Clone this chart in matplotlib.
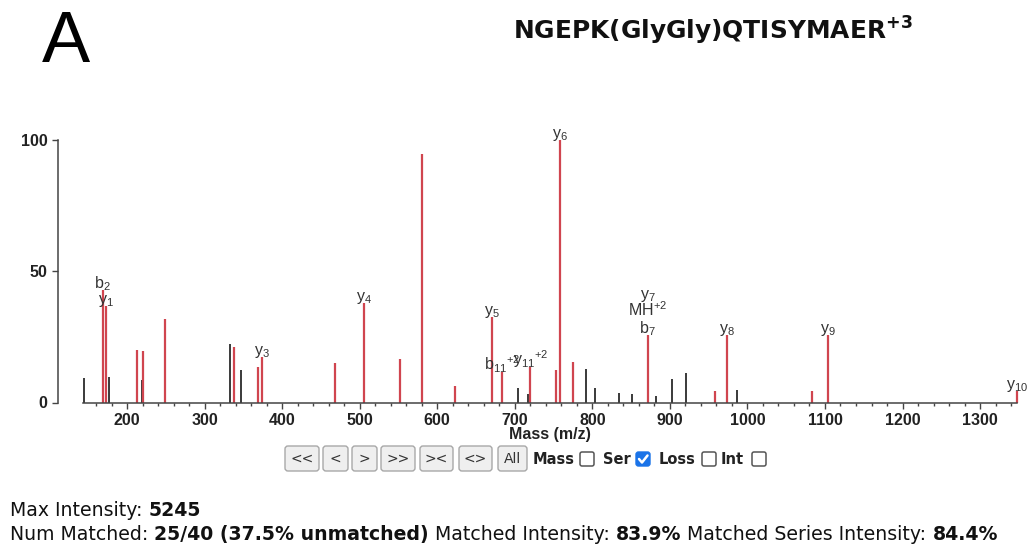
import matplotlib
matplotlib.use("Agg")
import matplotlib.pyplot as plt
from matplotlib.patches import FancyBboxPatch
from matplotlib.lines import Line2D

plt.rcParams["font.family"] = ["Liberation Sans", "DejaVu Sans"]
plt.rcParams["mathtext.default"] = "regular"

# ---------------------------------------------------------------- data
peptide = "NGEPK(GlyGly)QTISYMAER"
charge_label = "+3"

matched_mz = [168.7, 173.3, 213.3, 220.6, 249.0, 338.4, 368.5, 374.5, 467.8,
              506.0, 551.6, 580.0, 622.6, 670.3, 683.6, 720.1, 753.2, 758.0,
              775.5, 871.4, 958.2, 973.3, 1083.7, 1103.5, 1347.2]
matched_int = [42.7, 36.8, 20.1, 19.8, 31.7, 21.1, 13.7, 17.3, 15.1,
               37.9, 16.4, 94.5, 6.2, 32.6, 11.6, 13.5, 12.2, 100.0,
               15.4, 25.6, 4.3, 25.8, 4.3, 25.6, 4.3]

unmatched_mz = [144.9, 176.8, 219.3, 333.2, 346.6, 704.6, 717.5, 791.5,
                803.1, 834.4, 850.8, 882.1, 902.4, 920.4, 986.6]
unmatched_int = [9.5, 9.9, 8.7, 22.4, 12.2, 5.5, 3.3, 12.7,
                 5.5, 3.7, 3.3, 2.4, 9.0, 11.3, 4.8]

# ion annotations: peak m/z -> labels stacked from the peak upwards
ion_labels = {
    168.7: ["b$_2$"],
    173.3: ["y$_1$"],
    374.5: ["y$_3$"],
    506.0: ["y$_4$"],
    670.3: ["y$_5$"],
    683.6: ["b$_{11}$$^{+2}$"],
    720.1: ["y$_{11}$$^{+2}$"],
    758.0: ["y$_6$"],
    871.4: ["b$_7$", "MH$^{+2}$", "y$_7$"],
    973.3: ["y$_8$"],
    1103.5: ["y$_9$"],
    1347.2: ["y$_{10}$"],
}

y_ticks = [0, 50, 100]
x_major = list(range(200, 1301, 100))
x_minor = [m for m in range(160, 1341, 20) if m % 100]

buttons = ["<<", "<", ">", ">>", "><", "<>", "All"]
toggles = [("Mass", False), ("Ser", True), ("Loss", False), ("Int", False)]

summary_lines = [
    [("Max Intensity:", "normal"), ("5245", "bold")],
    [("Num Matched:", "normal"), ("25/40 (37.5% unmatched)", "bold"),
     ("Matched Intensity:", "normal"), ("83.9%", "bold"),
     ("Matched Series Intensity:", "normal"), ("84.4%", "bold")],
]

# ---------------------------------------------------------------- figure
W, H = 1030, 546
fig = plt.figure(figsize=(W / 100, H / 100), dpi=100)

RED = "#d0454f"
DARK = "#2b2b2b"
AXC = "#444444"

# spectrum axes (pixel frame: left 58, right 1017, baseline 402.5, top 118)
px_l, px_r, px_b, px_t = 58, 1017, 402.5, 118
ax = fig.add_axes([px_l / W, 1 - px_b / H, (px_r - px_l) / W, (px_b - px_t) / H])
ax.set_xlim(111.0, 1347.6)
ax.set_ylim(0, 108.4)
ax.patch.set_alpha(0)

ax.vlines(unmatched_mz, 0, unmatched_int, colors=DARK, lw=1.3, clip_on=False)
ax.vlines(matched_mz, 0, matched_int, colors=RED, lw=1.6, clip_on=False)

for s in ("top", "right"):
    ax.spines[s].set_visible(False)
for s in ("left", "bottom"):
    ax.spines[s].set_color(AXC)
    ax.spines[s].set_linewidth(1.1)
ax.spines["left"].set_bounds(0, 100)
ax.spines["bottom"].set_bounds(143.3, 1347.2)

ax.set_yticks(y_ticks)
ax.set_xticks(x_major)
ax.set_xticks(x_minor, minor=True)
ax.tick_params(axis="both", which="major", direction="out", length=4.5,
               width=1, color=AXC, labelsize=11.5, pad=3)
ax.tick_params(axis="x", which="minor", direction="out", length=2.5,
               width=1, color=AXC)
for lab in ax.get_xticklabels() + ax.get_yticklabels():
    lab.set_fontweight("bold")
    lab.set_color("#222222")

peak_height = dict(zip(matched_mz, matched_int))
for mz, stack in ion_labels.items():
    for i, txt in enumerate(stack):
        ax.annotate(txt, xy=(mz, peak_height[mz]), xytext=(0, 1.5 + 12.5 * i),
                    textcoords="offset points", ha="center", va="baseline",
                    fontsize=11.5, color="#333333", annotation_clip=False)

# ---------------------------------------------------------------- overlay in pixel units
ov = fig.add_axes([0, 0, 1, 1])
ov.set_xlim(0, W)
ov.set_ylim(H, 0)
ov.axis("off")
ov.patch.set_alpha(0)

ov.text(66, 44, "A", fontsize=52, ha="center", va="center", color="black",
        family=["Liberation Sans"])
ov.text(513, 40, peptide + "$^{" + charge_label + "}$", fontsize=17.9,
        fontweight="bold", ha="left", va="baseline", color="#111111",
        family=["DejaVu Sans"])

ov.text(550, 434, "Mass (m/z)", fontsize=11.5, fontweight="bold",
        ha="center", va="center", color="#222222")

# navigation buttons
btn_spans = [(285, 319), (323, 348), (352, 377), (381, 415), (420, 453),
             (459, 492), (498, 527)]
for label, (x0, x1) in zip(buttons, btn_spans):
    ov.add_patch(FancyBboxPatch((x0, 446), x1 - x0, 25,
                                boxstyle="round,pad=0,rounding_size=3",
                                fc="#efefef", ec="#a8a8a8", lw=1))
    ov.text((x0 + x1) / 2, 459, label, fontsize=10, ha="center", va="center",
            color="#333333", family=["DejaVu Sans"])

# toggles with checkboxes
toggle_pos = [(533, 580), (603, 636), (659, 702), (721, 752)]
for (label, on), (tx, bx) in zip(toggles, toggle_pos):
    ov.text(tx, 459, label, fontsize=10.5, fontweight="bold", ha="left",
            va="center", color="#222222", family=["DejaVu Sans"])
    if on:
        ov.add_patch(FancyBboxPatch((bx, 452), 14, 14,
                                    boxstyle="round,pad=0,rounding_size=2.5",
                                    fc="#1a73e8", ec="#1a73e8", lw=1))
        ov.add_line(Line2D([bx + 3, bx + 6, bx + 11.5], [459, 462.5, 455.5],
                           color="white", lw=1.8, solid_capstyle="round"))
    else:
        ov.add_patch(FancyBboxPatch((bx, 452), 14, 14,
                                    boxstyle="round,pad=0,rounding_size=2",
                                    fc="white", ec="#555555", lw=1.1))

# summary statistics, mixing regular and bold runs on one baseline
fig.canvas.draw()
renderer = fig.canvas.get_renderer()


def draw_runs(x, y, runs, size):
    probe = ov.text(0, 0, "a a", fontsize=size, family=["DejaVu Sans"])
    w_sp = probe.get_window_extent(renderer).width
    probe.set_text("aa")
    w_sp -= probe.get_window_extent(renderer).width
    probe.remove()
    for txt, weight in runs:
        t = ov.text(x, y, txt, fontsize=size, fontweight=weight, ha="left",
                    va="baseline", color="#111111", family=["DejaVu Sans"])
        x += t.get_window_extent(renderer).width + w_sp


draw_runs(10, 516, summary_lines[0], 13.6)
draw_runs(10, 540, summary_lines[1], 13.6)

fig.savefig("out.png", dpi=100)
